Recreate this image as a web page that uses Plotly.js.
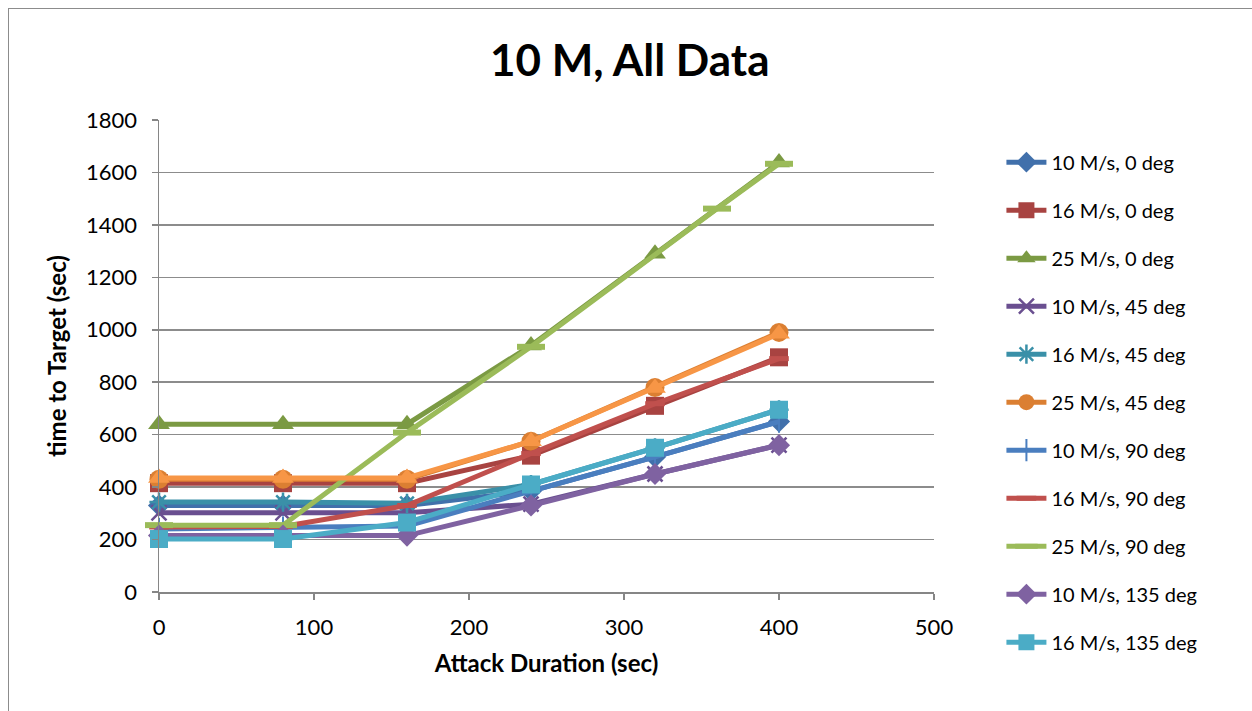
<!DOCTYPE html>
<html>
<head>
<meta charset="utf-8">
<script src="https://cdn.plot.ly/plotly-3.0.1.min.js"></script>
<style>
  html, body { margin: 0; padding: 0; background: #ffffff; }
  #wrap { position: relative; width: 1252px; height: 711px; }
  #chart { width: 1252px; height: 711px; }
  #frame { position: absolute; left: 8px; top: 8px; right: -2px; bottom: -2px;
           border-left: 1px solid #8c8c8c; border-top: 1px solid #8c8c8c; pointer-events: none; }
</style>
</head>
<body>
<div id="wrap">
  <div id="chart"></div>
  <div id="frame"></div>
</div>
<script>
// ---- data ----
const attackDuration = [0, 80, 160, 240, 320, 400];
const attackDuration25at90 = [0, 80, 160, 240, 360, 400];

const seriesNames = [
  "10 M/s, 0 deg", "16 M/s, 0 deg", "25 M/s, 0 deg",
  "10 M/s, 45 deg", "16 M/s, 45 deg", "25 M/s, 45 deg",
  "10 M/s, 90 deg", "16 M/s, 90 deg", "25 M/s, 90 deg",
  "10 M/s, 135 deg", "16 M/s, 135 deg", "25 M/s, 135 deg"
];

const v10_0   = [330, 330, 330, 385, 515, 650];
const v16_0   = [415, 415, 415, 520, 710, 895];
const v25_0   = [640, 640, 640, 940, 1290, 1638];
const v10_45  = [302, 302, 302, 335, 450, 560];
const v16_45  = [343, 343, 338, 410, 550, 695];
const v25_45  = [430, 430, 430, 575, 780, 990];
const v10_90  = [240, 245, 252, 385, 515, 650];
const v16_90  = [248, 250, 330, 528, 718, 890];
const v25_90  = [255, 255, 608, 935, 1462, 1633];
const v10_135 = [215, 215, 215, 330, 450, 560];
const v16_135 = [202, 202, 265, 410, 550, 695];
const v25_135 = [435, 435, 435, 575, 778, 985];

// ---- styles ----
const colors = ["#4170AB", "#A84341", "#7B9A43", "#6A4F90", "#3A90A8", "#DB7F32",
                "#4A7EBF", "#C0504D", "#9BBB59", "#7F62A1", "#4BACC6", "#F79646"];
const markerStyles = [
  {symbol: "diamond", size: 17},
  {symbol: "square", size: 18},
  {symbol: "triangle-up", size: 19},
  {symbol: "x-thin-open", size: 15, lw: 2.5},
  {symbol: "asterisk-open", size: 16, lw: 2.5},
  {symbol: "circle", size: 19},
  {symbol: "line-ns-open", size: 16, lw: 2},
  {symbol: "line-ew-open", size: 14, lw: 5},
  {symbol: "line-ew-open", size: 20, lw: 6},
  {symbol: "diamond", size: 17},
  {symbol: "square", size: 18},
  {symbol: "triangle-up", size: 19}
];
const yData = [v10_0, v16_0, v25_0, v10_45, v16_45, v25_45, v10_90, v16_90, v25_90, v10_135, v16_135, v25_135];

const traces = yData.map((ys, i) => {
  const m = markerStyles[i];
  const isOpen = m.symbol.endsWith("-open");
  return {
    type: "scatter",
    mode: "lines+markers",
    name: seriesNames[i],
    x: i === 8 ? attackDuration25at90 : attackDuration,
    y: ys,
    legendgroup: "g" + i,
    showlegend: i !== 11,
    cliponaxis: false,
    line: {color: colors[i], width: 5},
    marker: {
      symbol: m.symbol,
      size: m.size,
      color: colors[i],
      line: {color: colors[i], width: isOpen ? m.lw : 0}
    }
  };
});

const baseFont = "Lato, 'Open Sans', 'DejaVu Sans', sans-serif";

const layout = {
  width: 1252,
  height: 711,
  paper_bgcolor: "#ffffff",
  plot_bgcolor: "#ffffff",
  margin: {l: 159, r: 318, t: 120, b: 119, pad: 0},
  title: {
    text: "<b>10 M, All Data</b>",
    font: {family: baseFont, size: 44, color: "#000000"},
    x: 0.503, xref: "container", xanchor: "center",
    y: 0.915, yref: "container", yanchor: "middle"
  },
  font: {family: baseFont, color: "#000000"},
  xaxis: {
    range: [0, 500],
    dtick: 100,
    tick0: 0,
    showgrid: false,
    zeroline: false,
    showline: true,
    linecolor: "#868686",
    linewidth: 1.5,
    ticks: "outside",
    ticklen: 6,
    tickcolor: "#868686",
    tickwidth: 1.5,
    ticklabelstandoff: 9,
    tickfont: {family: baseFont, size: 22, color: "#000000"},
    title: {text: "<b>Attack Duration (sec)</b>", font: {family: baseFont, size: 24, color: "#000000"}, standoff: 16}
  },
  yaxis: {
    range: [0, 1800],
    dtick: 200,
    tick0: 0,
    showgrid: true,
    gridcolor: "#8c8c8c",
    gridwidth: 1.5,
    zeroline: false,
    showline: true,
    linecolor: "#868686",
    linewidth: 1.5,
    ticks: "outside",
    ticklen: 6,
    tickcolor: "#868686",
    tickwidth: 1.5,
    ticklabelstandoff: 10,
    tickfont: {family: baseFont, size: 22, color: "#000000"},
    title: {text: "<b>time to Target (sec)</b>", font: {family: baseFont, size: 24, color: "#000000"}, standoff: 12}
  },
  legend: {
    x: 1.087, xref: "paper", xanchor: "left",
    y: 0.952, yref: "paper", yanchor: "top",
    font: {family: baseFont, size: 20, color: "#000000"},
    tracegroupgap: 19,
    traceorder: "grouped",
    bgcolor: "rgba(0,0,0,0)",
    borderwidth: 0,
    itemwidth: 40,
    maxheight: 711
  },
  showlegend: true
};

Plotly.newPlot("chart", traces, layout, {displayModeBar: false, staticPlot: true});
</script>
</body>
</html>
